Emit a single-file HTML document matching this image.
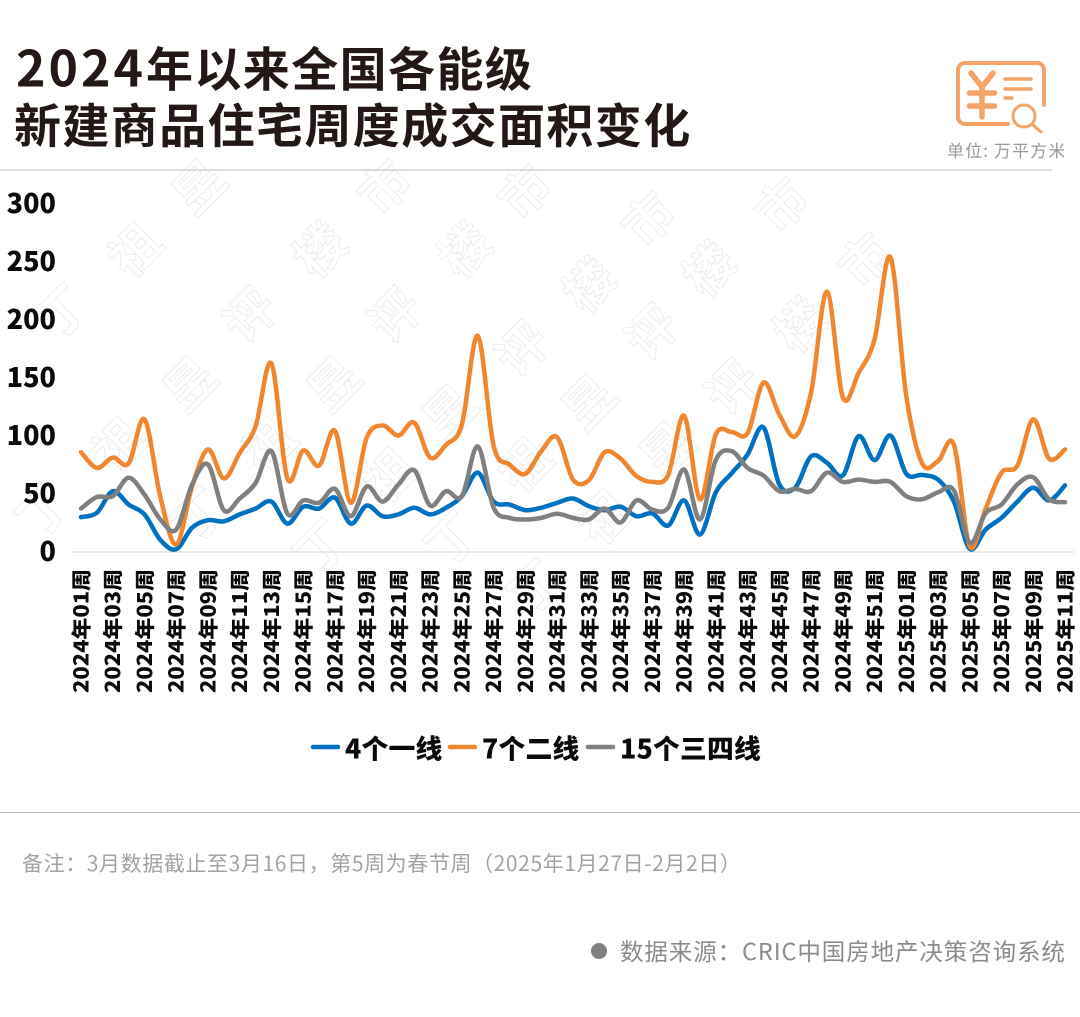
<!DOCTYPE html>
<html lang="zh-CN">
<head>
<meta charset="utf-8">
<title>2024年以来全国各能级新建商品住宅周度成交面积变化</title>
<style>
html,body{margin:0;padding:0;background:#fff;width:1080px;height:1017px;overflow:hidden}
svg{display:block;font-family:"Liberation Sans","Noto Sans CJK SC",sans-serif}
text{font-family:"Noto Sans CJK SC","Liberation Sans",sans-serif}
.wm{font-size:50px;font-weight:700;fill:none;stroke:#ececec;stroke-width:1;text-anchor:middle;dominant-baseline:central}
</style>
</head>
<body>
<svg id="chart" width="1080" height="1017" viewBox="0 0 1080 1017" xmlns="http://www.w3.org/2000/svg">
  <g>
    <text class="wm" x="42" y="508" transform="rotate(-45 42 508)">丁</text>
    <text class="wm" x="117" y="443" transform="rotate(-45 117 443)">祖</text>
    <text class="wm" x="188" y="382" transform="rotate(-45 188 382)">昱</text>
    <text class="wm" x="248" y="313" transform="rotate(-45 248 313)">评</text>
    <text class="wm" x="318" y="248" transform="rotate(-45 318 248)">楼</text>
    <text class="wm" x="383" y="185" transform="rotate(-45 383 185)">市</text>
    <text class="wm" x="60" y="310" transform="rotate(-45 60 310)">丁</text>
    <text class="wm" x="133" y="248" transform="rotate(-45 133 248)">祖</text>
    <text class="wm" x="197" y="185" transform="rotate(-45 197 185)">昱</text>
    <text class="wm" x="197" y="513" transform="rotate(-45 197 513)">丁</text>
    <text class="wm" x="267" y="443" transform="rotate(-45 267 443)">祖</text>
    <text class="wm" x="332" y="382" transform="rotate(-45 332 382)">昱</text>
    <text class="wm" x="393" y="313" transform="rotate(-45 393 313)">评</text>
    <text class="wm" x="463" y="248" transform="rotate(-45 463 248)">楼</text>
    <text class="wm" x="523" y="190" transform="rotate(-45 523 190)">市</text>
    <text class="wm" x="319" y="545" transform="rotate(-45 319 545)">丁</text>
    <text class="wm" x="388" y="473" transform="rotate(-45 388 473)">祖</text>
    <text class="wm" x="448" y="410" transform="rotate(-45 448 410)">昱</text>
    <text class="wm" x="520" y="347" transform="rotate(-45 520 347)">评</text>
    <text class="wm" x="587" y="283" transform="rotate(-45 587 283)">楼</text>
    <text class="wm" x="647" y="217" transform="rotate(-45 647 217)">市</text>
    <text class="wm" x="450" y="537" transform="rotate(-45 450 537)">丁</text>
    <text class="wm" x="523" y="463" transform="rotate(-45 523 463)">祖</text>
    <text class="wm" x="587" y="400" transform="rotate(-45 587 400)">昱</text>
    <text class="wm" x="650" y="330" transform="rotate(-45 650 330)">评</text>
    <text class="wm" x="707" y="267" transform="rotate(-45 707 267)">楼</text>
    <text class="wm" x="780" y="203" transform="rotate(-45 780 203)">市</text>
    <text class="wm" x="533" y="585" transform="rotate(-45 533 585)">丁</text>
    <text class="wm" x="603" y="515" transform="rotate(-45 603 515)">祖</text>
    <text class="wm" x="665" y="447" transform="rotate(-45 665 447)">昱</text>
    <text class="wm" x="730" y="385" transform="rotate(-45 730 385)">评</text>
    <text class="wm" x="798" y="323" transform="rotate(-45 798 323)">楼</text>
    <text class="wm" x="863" y="258" transform="rotate(-45 863 258)">市</text>
  </g>

  <g fill="#231815" font-size="47" font-weight="700" letter-spacing="1.4">
    <text x="16" y="86.500"><tspan font-size="50" letter-spacing="3">2024</tspan>年以来全国各能级</text>
    <text x="14" y="143">新建商品住宅周度成交面积变化</text>
  </g>

  <g fill="none" stroke="#F4A469" stroke-linecap="round" stroke-linejoin="round">
    <path d="M1008 124H965a7 7 0 0 1-7-7V70a7 7 0 0 1 7-7h72a7 7 0 0 1 7 7v35" stroke-width="4"/>
    <path d="M971 73l11 14 11-14M982 87v30M969.500 93h25M969.500 106h25" stroke-width="5.500"/>
    <path d="M1005 79h26M1005 89h26M1005 98h7" stroke-width="3.500"/>
    <circle cx="1024" cy="116" r="11" stroke-width="3"/>
    <path d="M1033 125l8 7" stroke-width="3"/>
  </g>
  <text x="947" y="157" font-size="17" fill="#9a9a9a" letter-spacing="1.100">单位: 万平方米</text>
  <line x1="0" y1="170" x2="1052" y2="170" stroke="#bdbdbd" stroke-width="1"/>

  <g id="y-axis"></g>
  <g id="x-axis"></g>
  <g id="series"></g>
  <g id="legend"></g>

  <line x1="0" y1="812.500" x2="1080" y2="812.500" stroke="#bdbdbd" stroke-width="1"/>
  <text x="22" y="871" font-size="21" fill="#a3a3a3" letter-spacing="0.600">备注：3月数据截止至3月16日，第5周为春节周（2025年1月27日-2月2日）</text>
  <circle cx="599" cy="951" r="8" fill="#808080"/>
  <text x="620" y="960" font-size="23.500" fill="#8c8c8c" letter-spacing="0.900">数据来源：CRIC中国房地产决策咨询系统</text>
</svg>

<script>
var categories = [
  "2024年01周","2024年02周","2024年03周","2024年04周","2024年05周","2024年06周","2024年07周","2024年08周",
  "2024年09周","2024年10周","2024年11周","2024年12周","2024年13周","2024年14周","2024年15周","2024年16周",
  "2024年17周","2024年18周","2024年19周","2024年20周","2024年21周","2024年22周","2024年23周","2024年24周",
  "2024年25周","2024年26周","2024年27周","2024年28周","2024年29周","2024年30周","2024年31周","2024年32周",
  "2024年33周","2024年34周","2024年35周","2024年36周","2024年37周","2024年38周","2024年39周","2024年40周",
  "2024年41周","2024年42周","2024年43周","2024年44周","2024年45周","2024年46周","2024年47周","2024年48周",
  "2024年49周","2024年50周","2024年51周","2024年52周","2025年01周","2025年02周","2025年03周","2025年04周",
  "2025年05周","2025年06周","2025年07周","2025年08周","2025年09周","2025年10周","2025年11周"
];
var yTicks = [0, 50, 100, 150, 200, 250, 300];
var tier1Values = [
  29.6,33.4,52,40.5,32,10,2,20.5,27,26,32,37,43,24,38.6,37,46.4,24,39.6,30.4,32,37.7,32,37.7,47.7,68,43,40.5,35.6,37.7,42,45.7,
  39,35.6,38.6,30.4,32.8,22.4,44,14.6,51,67.5,83.6,107,57.8,55,82,76.6,65.5,99.4,78.7,100,67,66,62,43,2.3,19,29,43,55,44,57
];
var tier2Values = [
  85.6,72,81,76,114,47,6,56,88,63,85,108,162,63,87,74,104,42,98,108.6,100,111,81,92,109.5,186,91,75,67,86.5,98.5,62,
  61.5,85.6,80,65,60,66,117,45,101,103,102,145.6,118,99.4,137,224,133,154,182.8,253.7,134,76,78,92,4.5,37,68,74,114,80,88
];
var tier3Values = [
  37,47,47.7,63.6,49,27.6,19,57.8,75,35.6,45.7,59,86.5,32.8,44,42,54,30.4,56,43,57.8,70,39.6,52,47.7,90.5,37.7,29,27.6,29,32.5,29,
  27.6,37,25,44,36,37.7,70.7,27.6,79,86.5,72,65.5,52,54,52,68,60,62,60,60,47.7,45,51,52.6,7.5,33,40.5,57.8,64,45,42.5
];
var seriesNames = ["4个一线", "7个二线", "15个三四线"];
var seriesColors = ["#0070C0", "#F0862F", "#808080"];

var NS = "http://www.w3.org/2000/svg";
function xScale(i) { return 81 + i * (1065 - 81) / (categories.length - 1); }
function yScale(v) { return 551.5 - v * 1.16; }
function make(tag, attrs, parent) {
  var el = document.createElementNS(NS, tag);
  for (var k in attrs) el.setAttribute(k, attrs[k]);
  parent.appendChild(el);
  return el;
}
function smoothPath(values) {
  var pts = values.map(function (v, i) { return [xScale(i), yScale(v)]; });
  var d = "M" + pts[0][0].toFixed(2) + " " + pts[0][1].toFixed(2);
  for (var i = 0; i < pts.length - 1; i++) {
    var p0 = pts[Math.max(i - 1, 0)], p1 = pts[i], p2 = pts[i + 1], p3 = pts[Math.min(i + 2, pts.length - 1)];
    var c1x = p1[0] + (p2[0] - p0[0]) / 6, c1y = p1[1] + (p2[1] - p0[1]) / 6;
    var c2x = p2[0] - (p3[0] - p1[0]) / 6, c2y = p2[1] - (p3[1] - p1[1]) / 6;
    d += "C" + c1x.toFixed(2) + " " + c1y.toFixed(2) + " " + c2x.toFixed(2) + " " + c2y.toFixed(2) + " " + p2[0].toFixed(2) + " " + p2[1].toFixed(2);
  }
  return d;
}

var yAxis = document.getElementById("y-axis");
yTicks.forEach(function (t) {
  var label = make("text", { x: 56, y: yScale(t) + 9.5, "text-anchor": "end", "font-size": 27, "font-weight": 900, fill: "#0a0a0a" }, yAxis);
  
  
  label.textContent = t;
});

var xAxis = document.getElementById("x-axis");
var baseLine = make("line", { x1: 73, x2: 1074, y1: yScale(0) + 0.5, y2: yScale(0) + 0.5, stroke: "#e2e2e2", "stroke-width": 1.5 }, xAxis);


categories.forEach(function (c, i) {
  if (i % 2 !== 0) return;
  var x = xScale(i), y = 569;
  var label = make("text", { x: x - 1, y: y, "text-anchor": "end", "dominant-baseline": "central", "font-size": 20, "font-weight": 900, fill: "#0a0a0a", transform: "rotate(-90 " + (x - 1) + " " + y + ")", textLength: 124, lengthAdjust: "spacingAndGlyphs" }, xAxis);
  
  
  label.textContent = c;
});

var seriesGroup = document.getElementById("series");
[tier1Values, tier2Values, tier3Values].forEach(function (values, s) {
  var line = make("path", { d: smoothPath(values), fill: "none", stroke: seriesColors[s], "stroke-width": 4.5, "stroke-linecap": "round", "stroke-linejoin": "round" }, seriesGroup);
  
  
});

var legend = document.getElementById("legend");
var legendSwatchX = [313, 450, 588];
seriesNames.forEach(function (name, s) {
  var swatch = make("line", { x1: legendSwatchX[s], x2: legendSwatchX[s] + 25, y1: 747, y2: 747, stroke: seriesColors[s], "stroke-width": 4.5, "stroke-linecap": "round" }, legend);
  
  
  var label = make("text", { x: legendSwatchX[s] + 32, y: 758.5, "font-size": 26.8, "font-weight": 900, fill: "#0a0a0a", "letter-spacing": 0.2 }, legend);
  
  
  label.textContent = name;
});
</script>
</body>
</html>
